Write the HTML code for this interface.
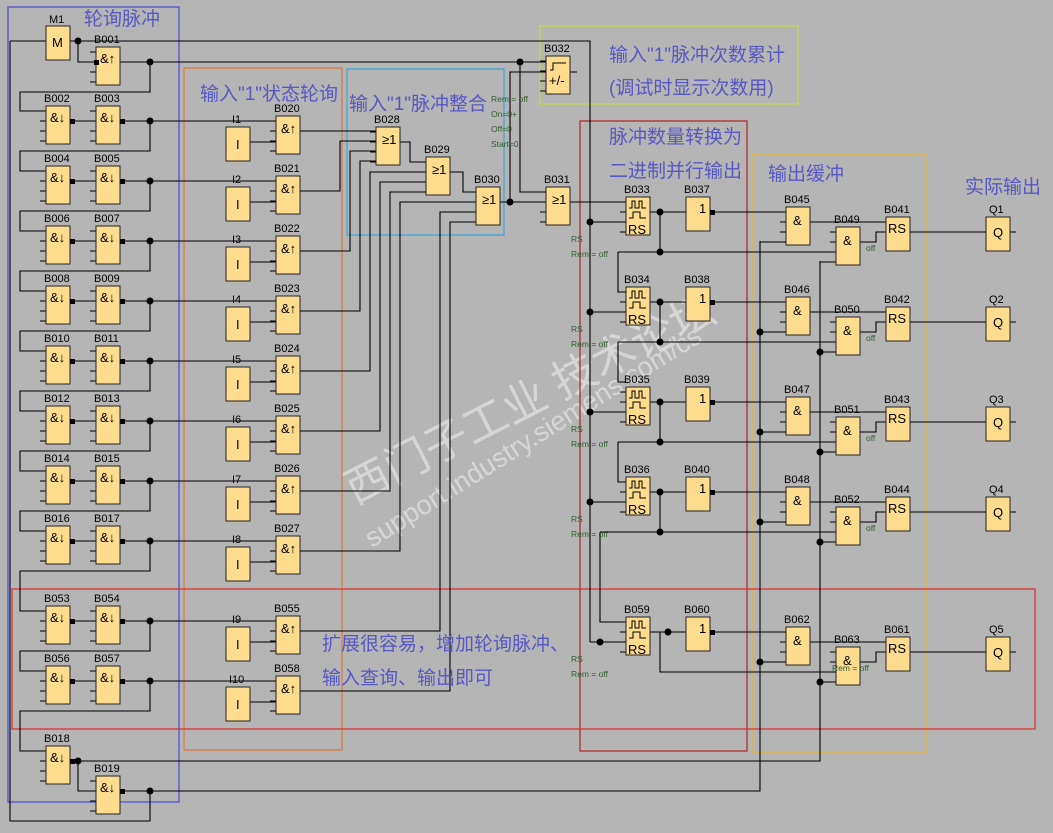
<!DOCTYPE html>
<html><head><meta charset="utf-8"><style>
html,body{margin:0;padding:0;background:#b5b5b5;}
svg{display:block}
.l{font-family:"Liberation Sans",sans-serif;font-size:11px;fill:#000}
.g text{font-size:13px !important}
.g{font-family:"Liberation Sans",sans-serif;fill:#000}
.s{font-family:"Liberation Sans",sans-serif;font-size:8.5px;fill:#2e5e2e}
.c{font-family:"Liberation Sans","Noto Sans CJK SC",sans-serif;font-size:19px;fill:#5858c4}
</style></head><body>
<svg width="1053" height="833" viewBox="0 0 1053 833" xmlns="http://www.w3.org/2000/svg">
<defs>
<g id="b4"><path d="M-6 5H0M-6 15H0M-6 25H0M-6 35H0" stroke="#000" stroke-width="1"/><rect x="0" y="0" width="24" height="38" fill="#fedc8e" stroke="#222"/></g>
<g id="b3"><rect x="0" y="0" width="24" height="34" fill="#fedc8e" stroke="#222"/></g>
<g id="rs"><path d="M-6 5H0M-6 15H0M-6 25H0M-6 35H0" stroke="#000"/><rect x="0" y="0" width="24" height="38" fill="#fedc8e" stroke="#222"/><path d="M3 11H6V4H9V11H13V4H16V11H20M3 21H7V15H14V21H20" fill="none" stroke="#000"/></g>
<circle id="d" r="3.5" fill="#000"/>
<rect id="q" x="-2" y="-2" width="5" height="5" fill="#000"/>
</defs>
<rect width="1053" height="833" fill="#b5b5b5"/>

<g fill="#fff" opacity="0.45" font-family="Liberation Sans,Noto Sans CJK SC,sans-serif">
<text x="0" y="0" font-size="44" transform="translate(355,505) rotate(-27)">西门子工业 技术论坛</text>
<text x="0" y="0" font-size="27" transform="translate(372,548) rotate(-32)">support.industry.siemens.com/cs</text>
</g>

<g fill="none" stroke-width="1.2">
<rect x="8" y="7" width="171" height="795" stroke="#4a4ad0"/>
<rect x="184" y="68" width="158" height="682" stroke="#e07838"/>
<rect x="347" y="69" width="157" height="166" stroke="#38a8d8"/>
<rect x="540" y="26" width="258" height="78" stroke="#c8d848"/>
<rect x="580" y="121" width="167" height="630" stroke="#b02020"/>
<rect x="752" y="155" width="174" height="597" stroke="#e8b830"/>
<rect x="12" y="589" width="1023" height="140" stroke="#e02828"/>
</g>

<g fill="none" stroke="#000" stroke-width="1.1">
<path d="M10 41H46M70 41H590V642M10 41V821H150V791"/>
<path d="M78 41V62H96M120 62H546M150 62V92H20V111H40"/>
<path d="M72 121H96M120 121H276M150 121V151H20V171H40"/>
<path d="M72 181H96M120 181H276M150 181V211H20V231H40"/>
<path d="M72 241H96M120 241H276M150 241V271H20V291H40"/>
<path d="M72 301H96M120 301H276M150 301V331H20V351H40"/>
<path d="M72 361H96M120 361H276M150 361V391H20V411H40"/>
<path d="M72 421H96M120 421H276M150 421V451H20V471H40"/>
<path d="M72 481H96M120 481H276M150 481V511H20V531H40"/>
<path d="M72 541H96M120 541H276M150 541V571H20V611H40"/>
<path d="M72 621H96M120 621H276M150 621V651H20V671H40"/>
<path d="M72 681H96M120 681H276M150 681V711H20V751H40"/>
<path d="M72 761H820V261M78 761V791H96M120 791H760V241"/>
<path d="M250 142H276M250 202H276M250 262H276M250 322H276M250 382H276M250 442H276M250 502H276M250 562H276M250 642H276M250 702H276"/>
<path d="M300 131H376M300 191H340V141H376M300 251H350V151H376M300 311H360V161H376"/>
<path d="M300 371H370V172H426M300 431H380V182H426M300 491H390V192H426"/>
<path d="M300 551H400V202H476M300 631H440V212H476M300 691H450V222H476"/>
<path d="M400 142H410V162H426M450 172H463V192H476"/>
<path d="M500 202H546M510 202V72H546M520 62V192H546M570 72H577"/>
<path d="M570 202H626"/>
<path d="M590 222H626M650 212H686M710 212H786M660 212V252M618 252H836M618 252V292H626"/>
<path d="M590 312H626M650 302H686M710 302H786M660 302V342M618 342H836M618 342V382H626"/>
<path d="M590 412H626M650 402H686M710 402H786M660 402V442M618 442H836M618 442V482H626"/>
<path d="M590 502H626M650 492H686M710 492H786M660 492V532M600 532H836M600 532V622H626"/>
<path d="M590 642H626M650 632H686M710 632H786M660 632V672H836"/>
<path d="M760 242H786M810 222H886M860 242H876V232H886M910 232H986M1010 232H1016M820 262H836"/>
<path d="M760 332H786M810 312H886M860 332H876V322H886M910 322H986M1010 322H1016M820 352H836"/>
<path d="M760 432H786M810 412H886M860 432H876V422H886M910 422H986M1010 422H1016M820 452H836"/>
<path d="M760 522H786M810 502H886M860 522H876V512H886M910 512H986M1010 512H1016M820 542H836"/>
<path d="M760 662H786M810 642H886M860 662H876V652H886M910 652H986M1010 652H1016M820 682H836"/>
</g>

<g>
<use href="#d" x="78" y="41"/><use href="#d" x="150" y="62"/><use href="#d" x="520" y="62"/><use href="#d" x="510" y="202"/>
<use href="#d" x="150" y="121"/><use href="#d" x="150" y="181"/><use href="#d" x="150" y="241"/><use href="#d" x="150" y="301"/><use href="#d" x="150" y="361"/><use href="#d" x="150" y="421"/><use href="#d" x="150" y="481"/><use href="#d" x="150" y="541"/><use href="#d" x="150" y="621"/><use href="#d" x="150" y="681"/><use href="#d" x="78" y="761"/><use href="#d" x="150" y="791"/>
<use href="#d" x="590" y="222"/><use href="#d" x="590" y="312"/><use href="#d" x="590" y="412"/><use href="#d" x="590" y="502"/><use href="#d" x="600" y="642"/>
<use href="#d" x="660" y="212"/><use href="#d" x="660" y="252"/><use href="#d" x="660" y="302"/><use href="#d" x="660" y="342"/><use href="#d" x="660" y="402"/><use href="#d" x="660" y="442"/><use href="#d" x="660" y="492"/><use href="#d" x="660" y="532"/><use href="#d" x="668" y="632"/>
<use href="#d" x="760" y="332"/><use href="#d" x="760" y="432"/><use href="#d" x="760" y="522"/><use href="#d" x="760" y="662"/>
<use href="#d" x="820" y="352"/><use href="#d" x="820" y="452"/><use href="#d" x="820" y="542"/><use href="#d" x="820" y="682"/>
</g>

<g>
<rect x="46" y="26" width="24" height="34" fill="#fedc8e" stroke="#222"/>
<use href="#b4" x="96" y="47"/>
<use href="#b4" x="46" y="106"/><use href="#b4" x="96" y="106"/>
<use href="#b4" x="46" y="166"/><use href="#b4" x="96" y="166"/>
<use href="#b4" x="46" y="226"/><use href="#b4" x="96" y="226"/>
<use href="#b4" x="46" y="286"/><use href="#b4" x="96" y="286"/>
<use href="#b4" x="46" y="346"/><use href="#b4" x="96" y="346"/>
<use href="#b4" x="46" y="406"/><use href="#b4" x="96" y="406"/>
<use href="#b4" x="46" y="466"/><use href="#b4" x="96" y="466"/>
<use href="#b4" x="46" y="526"/><use href="#b4" x="96" y="526"/>
<use href="#b4" x="46" y="606"/><use href="#b4" x="96" y="606"/>
<use href="#b4" x="46" y="666"/><use href="#b4" x="96" y="666"/>
<use href="#b4" x="46" y="746"/><use href="#b4" x="96" y="776"/>
<use href="#b3" x="226" y="127"/><use href="#b3" x="226" y="187"/><use href="#b3" x="226" y="247"/><use href="#b3" x="226" y="307"/><use href="#b3" x="226" y="367"/><use href="#b3" x="226" y="427"/><use href="#b3" x="226" y="487"/><use href="#b3" x="226" y="547"/><use href="#b3" x="226" y="627"/><use href="#b3" x="226" y="687"/>
<use href="#b4" x="276" y="116"/><use href="#b4" x="276" y="176"/><use href="#b4" x="276" y="236"/><use href="#b4" x="276" y="296"/><use href="#b4" x="276" y="356"/><use href="#b4" x="276" y="416"/><use href="#b4" x="276" y="476"/><use href="#b4" x="276" y="536"/><use href="#b4" x="276" y="616"/><use href="#b4" x="276" y="676"/>
<use href="#b4" x="376" y="127"/><use href="#b4" x="426" y="157"/><use href="#b4" x="476" y="187"/><use href="#b4" x="546" y="187"/>
<use href="#b4" x="546" y="56"/>
<use href="#rs" x="626" y="197"/><use href="#rs" x="626" y="287"/><use href="#rs" x="626" y="387"/><use href="#rs" x="626" y="477"/><use href="#rs" x="626" y="617"/>
<use href="#b3" x="686" y="197"/><use href="#b3" x="686" y="287"/><use href="#b3" x="686" y="387"/><use href="#b3" x="686" y="477"/><use href="#b3" x="686" y="617"/>
<use href="#b4" x="786" y="207"/><use href="#b4" x="786" y="297"/><use href="#b4" x="786" y="397"/><use href="#b4" x="786" y="487"/><use href="#b4" x="786" y="627"/>
<use href="#b4" x="836" y="227"/><use href="#b4" x="836" y="317"/><use href="#b4" x="836" y="417"/><use href="#b4" x="836" y="507"/><use href="#b4" x="836" y="647"/>
<use href="#b3" x="886" y="217"/><use href="#b3" x="886" y="307"/><use href="#b3" x="886" y="407"/><use href="#b3" x="886" y="497"/><use href="#b3" x="886" y="637"/>
<use href="#b3" x="986" y="217"/><use href="#b3" x="986" y="307"/><use href="#b3" x="986" y="407"/><use href="#b3" x="986" y="497"/><use href="#b3" x="986" y="637"/>
<path d="M550 70h3v-7h13" fill="none" stroke="#000"/>
</g>

<g>
<use href="#q" x="96" y="62"/>
<use href="#q" x="72" y="121"/><use href="#q" x="122" y="121"/><use href="#q" x="72" y="181"/><use href="#q" x="122" y="181"/><use href="#q" x="72" y="241"/><use href="#q" x="122" y="241"/><use href="#q" x="72" y="301"/><use href="#q" x="122" y="301"/><use href="#q" x="72" y="361"/><use href="#q" x="122" y="361"/><use href="#q" x="72" y="421"/><use href="#q" x="122" y="421"/><use href="#q" x="72" y="481"/><use href="#q" x="122" y="481"/><use href="#q" x="72" y="541"/><use href="#q" x="122" y="541"/><use href="#q" x="72" y="621"/><use href="#q" x="122" y="621"/><use href="#q" x="72" y="681"/><use href="#q" x="122" y="681"/><use href="#q" x="72" y="761"/><use href="#q" x="122" y="791"/>
<use href="#q" x="712" y="212"/><use href="#q" x="712" y="302"/><use href="#q" x="712" y="402"/><use href="#q" x="712" y="492"/><use href="#q" x="712" y="632"/>
</g>

<g class="g">
<text x="52" y="47">M</text>
<text x="100" y="63">&amp;↑</text>
<text x="50" y="122">&amp;↓</text><text x="100" y="122">&amp;↓</text>
<text x="50" y="182">&amp;↓</text><text x="100" y="182">&amp;↓</text>
<text x="50" y="242">&amp;↓</text><text x="100" y="242">&amp;↓</text>
<text x="50" y="302">&amp;↓</text><text x="100" y="302">&amp;↓</text>
<text x="50" y="362">&amp;↓</text><text x="100" y="362">&amp;↓</text>
<text x="50" y="422">&amp;↓</text><text x="100" y="422">&amp;↓</text>
<text x="50" y="482">&amp;↓</text><text x="100" y="482">&amp;↓</text>
<text x="50" y="542">&amp;↓</text><text x="100" y="542">&amp;↓</text>
<text x="50" y="622">&amp;↓</text><text x="100" y="622">&amp;↓</text>
<text x="50" y="682">&amp;↓</text><text x="100" y="682">&amp;↓</text>
<text x="50" y="762">&amp;↓</text><text x="100" y="792">&amp;↓</text>
<text x="236" y="149">I</text><text x="236" y="209">I</text><text x="236" y="269">I</text><text x="236" y="329">I</text><text x="236" y="389">I</text><text x="236" y="449">I</text><text x="236" y="509">I</text><text x="236" y="569">I</text><text x="236" y="649">I</text><text x="236" y="709">I</text>
<text x="281" y="133">&amp;↑</text><text x="281" y="193">&amp;↑</text><text x="281" y="253">&amp;↑</text><text x="281" y="313">&amp;↑</text><text x="281" y="373">&amp;↑</text><text x="281" y="433">&amp;↑</text><text x="281" y="493">&amp;↑</text><text x="281" y="553">&amp;↑</text><text x="281" y="633">&amp;↑</text><text x="281" y="693">&amp;↑</text>
<text x="382" y="144">≥1</text><text x="432" y="174">≥1</text><text x="482" y="204">≥1</text><text x="552" y="204">≥1</text>
<text x="549" y="85">+/-</text>
<text x="628" y="234">RS</text><text x="628" y="324">RS</text><text x="628" y="424">RS</text><text x="628" y="514">RS</text><text x="628" y="654">RS</text>
<text x="699" y="213">1</text><text x="699" y="303">1</text><text x="699" y="403">1</text><text x="699" y="493">1</text><text x="699" y="633">1</text>
<text x="793" y="225">&amp;</text><text x="793" y="315">&amp;</text><text x="793" y="415">&amp;</text><text x="793" y="505">&amp;</text><text x="793" y="645">&amp;</text>
<text x="843" y="245">&amp;</text><text x="843" y="335">&amp;</text><text x="843" y="435">&amp;</text><text x="843" y="525">&amp;</text><text x="843" y="665">&amp;</text>
<text x="888" y="233">RS</text><text x="888" y="323">RS</text><text x="888" y="423">RS</text><text x="888" y="513">RS</text><text x="888" y="653">RS</text>
<text x="993" y="237">Q</text><text x="993" y="327">Q</text><text x="993" y="427">Q</text><text x="993" y="517">Q</text><text x="993" y="657">Q</text>
</g>

<g class="l">
<text x="49" y="23">M1</text><text x="94" y="43">B001</text>
<text x="44" y="102">B002</text><text x="94" y="102">B003</text>
<text x="44" y="162">B004</text><text x="94" y="162">B005</text>
<text x="44" y="222">B006</text><text x="94" y="222">B007</text>
<text x="44" y="282">B008</text><text x="94" y="282">B009</text>
<text x="44" y="342">B010</text><text x="94" y="342">B011</text>
<text x="44" y="402">B012</text><text x="94" y="402">B013</text>
<text x="44" y="462">B014</text><text x="94" y="462">B015</text>
<text x="44" y="522">B016</text><text x="94" y="522">B017</text>
<text x="44" y="602">B053</text><text x="94" y="602">B054</text>
<text x="44" y="662">B056</text><text x="94" y="662">B057</text>
<text x="44" y="742">B018</text><text x="94" y="772">B019</text>
<text x="232" y="123">I1</text><text x="232" y="183">I2</text><text x="232" y="243">I3</text><text x="232" y="303">I4</text><text x="232" y="363">I5</text><text x="232" y="423">I6</text><text x="232" y="483">I7</text><text x="232" y="543">I8</text><text x="232" y="623">I9</text><text x="229" y="683">I10</text>
<text x="274" y="112">B020</text><text x="274" y="172">B021</text><text x="274" y="232">B022</text><text x="274" y="292">B023</text><text x="274" y="352">B024</text><text x="274" y="412">B025</text><text x="274" y="472">B026</text><text x="274" y="532">B027</text><text x="274" y="612">B055</text><text x="274" y="672">B058</text>
<text x="374" y="123">B028</text><text x="424" y="153">B029</text><text x="474" y="183">B030</text><text x="544" y="183">B031</text><text x="544" y="52">B032</text>
<text x="624" y="193">B033</text><text x="684" y="193">B037</text><text x="624" y="283">B034</text><text x="684" y="283">B038</text><text x="624" y="383">B035</text><text x="684" y="383">B039</text><text x="624" y="473">B036</text><text x="684" y="473">B040</text><text x="624" y="613">B059</text><text x="684" y="613">B060</text>
<text x="784" y="203">B045</text><text x="834" y="223">B049</text><text x="884" y="213">B041</text><text x="989" y="213">Q1</text>
<text x="784" y="293">B046</text><text x="834" y="313">B050</text><text x="884" y="303">B042</text><text x="989" y="303">Q2</text>
<text x="784" y="393">B047</text><text x="834" y="413">B051</text><text x="884" y="403">B043</text><text x="989" y="403">Q3</text>
<text x="784" y="483">B048</text><text x="834" y="503">B052</text><text x="884" y="493">B044</text><text x="989" y="493">Q4</text>
<text x="784" y="623">B062</text><text x="834" y="643">B063</text><text x="884" y="633">B061</text><text x="989" y="633">Q5</text>
</g>

<g class="s">
<text x="491" y="102">Rem = off</text><text x="491" y="117">On=0+</text><text x="491" y="132">Off=0</text><text x="491" y="147">Start=0</text>
<text x="571" y="242">RS</text><text x="571" y="257">Rem = off</text>
<text x="571" y="332">RS</text><text x="571" y="347">Rem = off</text>
<text x="571" y="432">RS</text><text x="571" y="447">Rem = off</text>
<text x="571" y="522">RS</text><text x="571" y="537">Rem = off</text>
<text x="571" y="662">RS</text><text x="571" y="677">Rem = off</text>
<text x="866" y="251">off</text><text x="866" y="341">off</text><text x="866" y="441">off</text><text x="866" y="531">off</text><text x="832" y="671">Rem = off</text>
</g>

<g class="c">
<text x="84" y="25">轮询脉冲</text>
<text x="200" y="100">输入"1"状态轮询</text>
<text x="349" y="110">输入"1"脉冲整合</text>
<text x="609" y="61">输入"1"脉冲次数累计</text>
<text x="609" y="94">(调试时显示次数用)</text>
<text x="609" y="143">脉冲数量转换为</text>
<text x="609" y="177">二进制并行输出</text>
<text x="768" y="180">输出缓冲</text>
<text x="965" y="193">实际输出</text>
<text x="322" y="650">扩展很容易，增加轮询脉冲、</text>
<text x="322" y="684">输入查询、输出即可</text>
</g>
</svg>
</body></html>
